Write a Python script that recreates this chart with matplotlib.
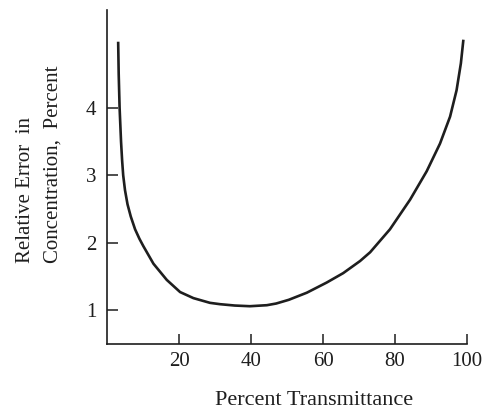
import matplotlib
matplotlib.use("Agg")
import matplotlib.pyplot as plt

# curve: percent transmittance vs relative error (%)
transmittance = [3.1, 3.25, 3.5, 3.9, 4.2, 4.5, 5.0, 5.7, 6.6, 7.8, 9.0,
                 10.1, 12.9, 16.6, 20.3, 24.0, 28.6, 31.4, 35.5, 39.7, 44.4,
                 47.0, 50.5, 55.5, 61.0, 65.6, 70.3, 73.1, 78.6, 84.2, 88.8,
                 92.5, 95.3, 97.1, 98.3, 99.0]
rel_error = [4.98, 4.5, 4.0, 3.5, 3.22, 3.0, 2.78, 2.57, 2.39, 2.20, 2.06,
             1.95, 1.69, 1.45, 1.27, 1.18, 1.11, 1.09, 1.07, 1.06, 1.075,
             1.10, 1.155, 1.26, 1.41, 1.55, 1.73, 1.86, 2.20, 2.64, 3.06,
             3.47, 3.87, 4.26, 4.66, 5.01]

xticks = [20, 40, 60, 80, 100]
yticks = [1, 2, 3, 4]

plt.rcParams['font.family'] = ['Liberation Serif', 'DejaVu Serif']
ink = "#1e1e1e"

fig = plt.figure(figsize=(4.92, 4.12), dpi=100)
ax = fig.add_axes([107/492, 68/412, 360/492, 334/412])

ax.plot(transmittance, rel_error, color=ink, lw=1.9,
        solid_joinstyle='round', solid_capstyle='butt')

ax.set_xlim(0, 100)
ax.set_ylim(0.5, 5.45)
ax.set_xticks(xticks)
ax.set_yticks(yticks)

for side in ['top', 'right']:
    ax.spines[side].set_visible(False)
for side in ['left', 'bottom']:
    ax.spines[side].set_linewidth(1.2)
    ax.spines[side].set_color(ink)

ax.tick_params(axis='both', direction='in', color=ink, width=1.1,
               labelsize=15, labelcolor=ink)
ax.tick_params(axis='x', length=7, pad=6)
ax.tick_params(axis='y', length=8, pad=7.5)

ax.set_xlabel("Percent Transmittance", fontsize=16, color=ink)
ax.xaxis.set_label_coords((314 - 107) / 360, -(391 - 344) / 334)

# two-line y label, both lines start at the same height
fig.text(25/492, 149/412, "Relative Error  in", rotation=90,
         rotation_mode='anchor', ha='left', va='center', fontsize=15,
         color=ink)
fig.text(53/492, 149/412, "Concentration,  Percent", rotation=90,
         rotation_mode='anchor', ha='left', va='center', fontsize=15,
         color=ink)

fig.savefig("out.png", dpi=100, facecolor='white')
